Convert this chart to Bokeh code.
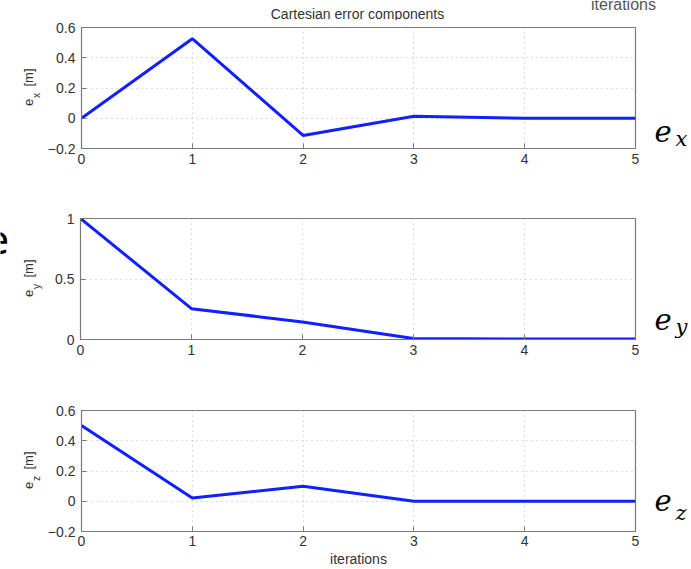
from math import pi
from bokeh.plotting import figure
from bokeh.models import Range1d, FixedTicker, Label, ColumnDataSource
from bokeh.layouts import column, row
from bokeh.embed import file_html
from bokeh.resources import INLINE

# ---- data ----
iterations = [0, 1, 2, 3, 4, 5]
ex = [0.0, 0.526, -0.114, 0.013, 0.0, 0.0]
ey = [1.0, 0.255, 0.145, 0.008, 0.004, 0.004]
ez = [0.5, 0.022, 0.099, 0.0, 0.0, 0.0]

x_ticks = [0, 1, 2, 3, 4, 5]
x_tick_labels = ["0", "1", "2", "3", "4", "5"]
exz_ticks = [-0.2, 0, 0.2, 0.4, 0.6]
exz_tick_labels = ["\u22120.2", "0", "0.2", "0.4", "0.6"]
ey_ticks = [0, 0.5, 1]
ey_tick_labels = ["0", "0.5", "1"]

title_text = "Cartesian error components"
x_label = "iterations"
panel_names = ["x", "y", "z"]

FONT = "Liberation Sans"
TXT = "#333333"
FRAME = "#7a7a7a"
BLUE = "#1020ff"

LEFT_W, MAIN_W, RIGHT_W = 44, 600, 46
MAIN_LEFT, FRAME_W = 36, 555
MAIN_RIGHT = MAIN_W - MAIN_LEFT - FRAME_W
TOP_H = 20


def blank(width, height):
    """Bare canvas used only for annotation text; 1 data unit = 1 pixel.
    Inside a row its frame top lines up with the neighbouring plot's frame top."""
    f = figure(frame_width=width, frame_height=height,
               x_range=Range1d(0, width), y_range=Range1d(0, height),
               output_backend="svg", toolbar_location=None, title=None,
               x_axis_location=None, y_axis_location=None,
               min_border=0, min_border_left=0, min_border_right=0,
               min_border_top=0, min_border_bottom=0)
    f.outline_line_color = None
    f.grid.visible = False
    f.background_fill_color = "white"
    f.border_fill_color = "white"
    return f


def main_panel(yvals, yticks, ylabels, yrng, height, top, bottom, xlabel=None):
    p = figure(width=MAIN_W, height=height, x_range=Range1d(0, 5), y_range=Range1d(*yrng),
               output_backend="svg", toolbar_location=None, title=None,
               min_border_left=MAIN_LEFT, min_border_right=MAIN_RIGHT,
               min_border_top=top, min_border_bottom=bottom)
    p.background_fill_color = "white"
    p.border_fill_color = "white"
    p.outline_line_color = FRAME
    p.outline_line_width = 1.2

    src = ColumnDataSource(dict(x=iterations, y=yvals))
    p.line("x", "y", source=src, line_color=BLUE, line_width=3)

    xa = p.below[0]
    ya = p.left[0]
    for ax in (xa, ya):
        ax.axis_line_color = FRAME
        ax.major_tick_line_color = FRAME
        ax.major_tick_in = 5
        ax.major_tick_out = 0
        ax.minor_tick_line_color = None
        ax.major_label_text_font = FONT
        ax.major_label_text_font_size = "14px"
        ax.major_label_text_color = TXT
    xa.ticker = FixedTicker(ticks=x_ticks)
    xa.major_label_overrides = {t: l for t, l in zip(x_ticks, x_tick_labels)}
    xa.major_label_standoff = 5
    ya.ticker = FixedTicker(ticks=yticks)
    ya.major_label_overrides = {t: l for t, l in zip(yticks, ylabels)}
    ya.major_label_standoff = 6

    if xlabel:
        xa.major_label_standoff = 4
        xa.axis_label = xlabel
        xa.axis_label_text_font = FONT
        xa.axis_label_text_font_style = "normal"
        xa.axis_label_text_font_size = "14px"
        xa.axis_label_text_color = TXT
        xa.axis_label_standoff = 2

    p.xgrid.ticker = FixedTicker(ticks=x_ticks)
    p.ygrid.ticker = FixedTicker(ticks=yticks)
    for g in (p.xgrid[0], p.ygrid[0]):
        g.grid_line_color = "#b8b8b8"
        g.grid_line_dash = "1 4"
        g.grid_line_width = 1
    return p


def left_labels(fh, ftop, fmid, sub, big_e=None):
    # fh: frame height of this canvas; ftop: picture row of its top edge
    f = blank(LEFT_W, fh)

    def Y(img_y):
        return fh - (img_y - ftop)

    f.add_layout(Label(x=28, y=Y(fmid + 14.5), text="e", angle=pi / 2,
                       text_align="center", text_baseline="middle",
                       text_font=FONT, text_font_size="13px", text_color=TXT))
    f.add_layout(Label(x=36, y=Y(fmid + 7.5), text=sub, angle=pi / 2,
                       text_align="center", text_baseline="middle",
                       text_font=FONT, text_font_size="10px", text_color=TXT))
    f.add_layout(Label(x=28, y=Y(fmid - 10.5), text="[m]", angle=pi / 2,
                       text_align="center", text_baseline="middle",
                       text_font=FONT, text_font_size="13px", text_color=TXT))
    if big_e is not None:
        f.add_layout(Label(x=8.5, y=Y(big_e), text="e", text_align="right",
                           text_baseline="alphabetic", text_font="Noto Sans",
                           text_font_size="40px", text_color="black"))
    return f


def right_labels(fh, ftop, sub, e_base, s_base):
    f = blank(RIGHT_W, fh)

    def Y(img_y):
        return fh - (img_y - ftop)

    f.add_layout(Label(x=10, y=Y(e_base), text="e", text_align="left",
                       text_baseline="alphabetic", text_font="DejaVu Serif",
                       text_font_style="italic", text_font_size="29px", text_color="black"))
    f.add_layout(Label(x=31, y=Y(s_base), text=sub, text_align="left",
                       text_baseline="alphabetic", text_font="DejaVu Serif",
                       text_font_style="italic", text_font_size="21px", text_color="black"))
    return f


# top strip: title (and the cut-off caption of a neighbouring figure)
top = blank(LEFT_W + MAIN_W + RIGHT_W, TOP_H)
top.add_layout(Label(x=357, y=TOP_H - 13, text=title_text, text_align="center",
                     text_baseline="middle", text_font=FONT, text_font_size="14px",
                     text_color=TXT))
top.add_layout(Label(x=623, y=TOP_H - 4, text=x_label, text_align="center",
                     text_baseline="alphabetic", text_font=FONT, text_font_size="16px",
                     text_color="#555555"))

h1, h2, h3 = 170, 190, 189
t1, t2, t3 = 7, 28, 30
# row 1: picture rows 20..190, frame 27..148
p1 = main_panel(ex, exz_ticks, exz_tick_labels, (-0.2, 0.6), h1, t1, 42)
f1 = 20 + t1
r1 = row(left_labels(h1 - t1, f1, 87.5, panel_names[0]), p1,
         right_labels(h1 - t1, f1, panel_names[0], 130, 138), spacing=0)
# row 2: picture rows 190..380, frame 218..339
p2 = main_panel(ey, ey_ticks, ey_tick_labels, (0, 1), h2, t2, 41)
f2 = 190 + t2
r2 = row(left_labels(h2 - t2, f2, 278.5, panel_names[1], big_e=239), p2,
         right_labels(h2 - t2, f2, panel_names[1], 318, 326), spacing=0)
# row 3: picture rows 380..569, frame 410..531
p3 = main_panel(ez, exz_ticks, exz_tick_labels, (-0.2, 0.6), h3, t3, 38, xlabel=x_label)
f3 = 380 + t3
r3 = row(left_labels(h3 - t3, f3, 470.5, panel_names[2]), p3,
         right_labels(h3 - t3, f3, panel_names[2], 499, 512), spacing=0)

layout = column(top, r1, r2, r3, spacing=0)
open("out.html", "w").write(file_html(layout, INLINE))
